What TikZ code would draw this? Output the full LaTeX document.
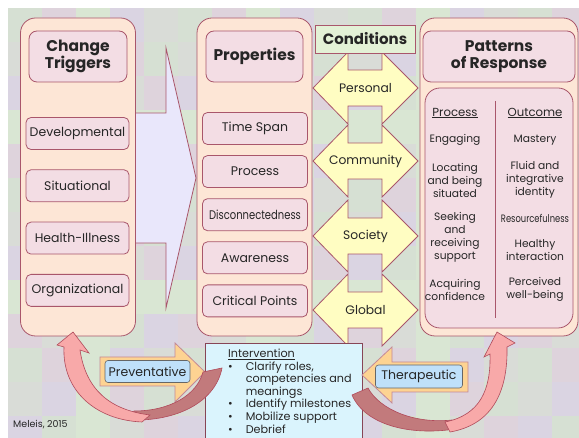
\documentclass[tikz,border=0pt]{standalone}
\usepackage{fontspec}
\setmainfont{Poppins}
\usetikzlibrary{positioning,shapes}
\definecolor{maroon}{HTML}{A9566B}
\definecolor{peach}{HTML}{FDE6D6}
\definecolor{rosebox}{HTML}{F3DDE4}
\definecolor{lavender}{HTML}{E9E7FB}
\definecolor{lemon}{HTML}{FFFDC2}
\definecolor{mint}{HTML}{E3F1D6}
\definecolor{iceblue}{HTML}{DAF4FD}
\definecolor{apricot}{HTML}{FDD392}
\definecolor{skyblue}{HTML}{BFE0FA}
\definecolor{blush}{HTML}{F8A9A9}
\definecolor{wine}{HTML}{B04A5A}
\definecolor{dusk}{HTML}{C27A7C}
\definecolor{ink}{HTML}{262626}
\definecolor{tile0}{HTML}{D6E0D3}
\definecolor{tile1}{HTML}{DAD4E2}
\definecolor{tile2}{HTML}{DED3DC}
\definecolor{tile3}{HTML}{D9DCD7}
\definecolor{tile4}{HTML}{D9E6D3}
\tikzstyle{colbox}=[rectangle,rounded corners=15pt,draw=maroon,fill=peach,line width=0.8pt,minimum height=318pt]
\tikzstyle{titlebox}=[rectangle,rounded corners=8pt,draw=maroon,fill=rosebox,line width=0.8pt,
  minimum height=51pt,align=center,font=\fontsize{15.5}{17}\selectfont\bfseries]
\tikzstyle{itembox}=[rectangle,rounded corners=5pt,draw=maroon,fill=rosebox,line width=0.8pt,
  minimum height=32pt,font=\fontsize{12.5}{14}\selectfont]
\tikzstyle{condarrow}=[draw=maroon,fill=lemon,line width=0.8pt]
\tikzstyle{tagbox}=[rectangle,rounded corners=3pt,draw=black!60,fill=skyblue,line width=0.6pt,
  font=\fontsize{12.5}{14}\selectfont]
\tikzstyle{cell}=[align=center,font=\fontsize{10.7}{13}\selectfont]

\begin{document}
\begin{tikzpicture}[x=1pt,y=-1pt,text=ink,inner sep=0pt]
  \useasboundingbox (0,0) rectangle (579,438);
  % tiled backdrop
  \begin{scope}
    \clip (8,8) rectangle (579,438);
    \foreach \i in {0,...,16}
      \foreach \j in {0,...,12}{
        \pgfmathtruncatemacro\k{mod(7*\i+3*\j+\i*\j,5)}
        \fill[tile\k] ({8+34*\i},{8+34*\j}) rectangle ++(34,34);
      }
  \end{scope}

  % big arrow between the first two columns
  \draw[draw=maroon,fill=lavender,line width=0.8pt]
    (135,113) -- (166,113) -- (166,48) -- (196,178) -- (166,308) -- (166,243) -- (135,243);

  % change triggers
  \node[colbox,minimum width=115pt] (trig) at (78,177) {};
  \node[titlebox,minimum width=98pt] (trigT) at (78,56.5) {Change\\Triggers};
  \begin{scope}[node distance=52.3pt]
    \node[itembox,minimum width=103pt] (dev) at (77.5,133.5) {Developmental};
    \node[itembox,minimum width=103pt,below of=dev] (sit) {Situational};
    \node[itembox,minimum width=103pt,below of=sit] (hea) {Health-Illness};
    \node[itembox,minimum width=103pt,below of=hea] (org) {Organizational};
  \end{scope}

  % properties
  \node[colbox,minimum width=115pt] (prop) at (254.5,177) {};
  \node[titlebox,minimum width=97pt] (propT) at (254.5,56.5) {Properties};
  \begin{scope}[node distance=43.1pt]
    \node[itembox,minimum width=105pt] (tim) at (255,128.5) {Time Span};
    \node[itembox,minimum width=105pt,below of=tim] (pro) {Process};
    \node[itembox,minimum width=105pt,below of=pro] (dis) {\scalebox{0.8}[1]{Disconnectedness}};
    \node[itembox,minimum width=105pt,below of=dis] (awa) {Awareness};
    \node[itembox,minimum width=105pt,below of=awa] (cri) {Critical Points};
  \end{scope}

  % conditions
  \foreach \cy/\nm/\txt in {88/per/Personal,161/com/Community,236/soc/Society,310/glo/Global}{
    \draw[condarrow] (313,\cy) -- (348,\cy-36) -- (348,\cy-18) -- (382,\cy-18) -- (382,\cy-36)
      -- (418,\cy) -- (382,\cy+36) -- (382,\cy+18) -- (348,\cy+18) -- (348,\cy+36) -- cycle;
    \node[font=\fontsize{12.3}{14}\selectfont] (\nm) at (365.5,\cy) {\txt};
  }
  \node[draw=maroon,fill=mint,line width=0.8pt,minimum width=100pt,minimum height=28pt,
    font=\fontsize{15}{17}\selectfont\bfseries] (cond) at (365,39) {Conditions};

  % patterns of response
  \node[colbox,minimum width=158pt] (resp) at (499,177) {};
  \node[titlebox,minimum width=152pt] (respT) at (499,56.5) {Patterns\\of Response};
  \node[colbox,fill=rosebox,minimum width=148pt,minimum height=240pt] (respIn) at (499,208) {};
  \draw[maroon,line width=1pt] (495,101) -- (495,318);
  \node[cell,font=\fontsize{11.7}{13}\selectfont] (procH) at (455,113) {\underline{Process}};
  \node[cell,font=\fontsize{11.7}{13}\selectfont] (outH) at (535,113) {\underline{Outcome}};
  \node[cell] (p1) at (455,140) {Engaging};
  \node[cell] (p2) at (455,180) {Locating\\and being\\situated};
  \node[cell] (p3) at (455,237.5) {Seeking\\and\\receiving\\support};
  \node[cell] (p4) at (455,289.5) {Acquiring\\confidence};
  \node[cell] (o1) at (535,140) {Mastery};
  \node[cell] (o2) at (535,180) {Fluid and\\integrative\\identity};
  \node[cell] (o3) at (535,218) {\scalebox{0.78}[1]{Resourcefulness}};
  \node[cell] (o4) at (535,250.5) {Healthy\\interaction};
  \node[cell] (o5) at (535,289.5) {Perceived\\well-being};

  % intervention
  \node[draw=maroon!80!black,fill=iceblue,line width=0.8pt,minimum width=157pt,minimum height=100pt,
    anchor=north west] (int) at (205,343) {};
  \node[anchor=north west,font=\fontsize{11.2}{12.6}\selectfont] (intT) at (228,348.5)
    {\begin{tabular}{@{}c@{\hspace{13pt}}l@{}}
      \multicolumn{2}{@{}l}{\underline{Intervention}}\\
      \textbullet & Clarify roles,\\
                  & competencies and\\
                  & meanings\\
      \textbullet & Identify milestones\\
      \textbullet & Mobilize support\\
      \textbullet & Debrief
    \end{tabular}};

  % preventative and therapeutic
  \draw[draw=maroon!70,fill=apricot,line width=0.8pt]
    (100,357) -- (175,357) -- (175,343) -- (205,372) -- (175,402) -- (175,386) -- (100,386) -- cycle;
  \node[tagbox,minimum width=85pt,minimum height=22pt] (prev) at (147.5,371.5) {Preventative};
  \draw[draw=maroon!70,fill=apricot,line width=0.8pt]
    (468,362) -- (392,362) -- (392,347) -- (362,375) -- (392,403) -- (392,392) -- (468,392) -- cycle;
  \node[tagbox,minimum width=87pt,minimum height=23pt] (ther) at (419,376.5) {Therapeutic};

  % curved arrows back to the columns
  \draw[draw=wine,fill=dusk,line width=0.6pt]
    (222,368) .. controls (216,400) and (180,422) .. (128,420) -- (134,411)
    .. controls (170,411) and (197,395) .. (203,372) -- cycle;
  \draw[draw=wine,fill=blush,line width=0.6pt]
    (73,332) -- (89,353) -- (80,350) .. controls (86,390) and (110,410) .. (150,415)
    -- (142,422) .. controls (95,420) and (62,390) .. (64,347) -- (57,345) -- cycle;
  \draw[draw=wine,fill=dusk,line width=0.6pt]
    (352,395) .. controls (365,425) and (410,436) .. (455,429) -- (452,420)
    .. controls (415,424) and (380,410) .. (368,388) -- cycle;
  \draw[draw=wine,fill=blush,line width=0.6pt]
    (497,332) -- (515,343) -- (507,347) .. controls (508,395) and (490,425) .. (450,432)
    -- (445,422) .. controls (480,415) and (491,390) .. (490,354) -- (484,357) -- cycle;

  \node[font=\fontsize{9.5}{11}\selectfont,anchor=west] (src) at (13,425) {Meleis, 2015};
\end{tikzpicture}
\end{document}
